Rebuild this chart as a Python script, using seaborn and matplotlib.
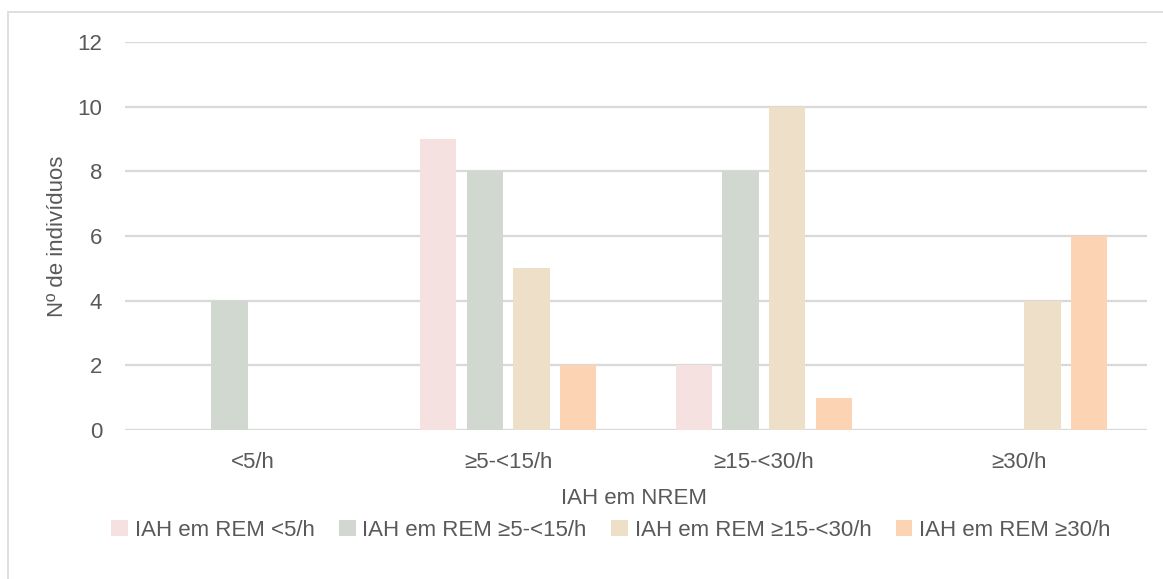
import matplotlib
matplotlib.use("Agg")
import matplotlib.pyplot as plt
from matplotlib.patches import Rectangle
import seaborn as sns
import pandas as pd

categories = ["<5/h", "≥5-<15/h", "≥15-<30/h", "≥30/h"]
series = ["IAH em REM <5/h", "IAH em REM ≥5-<15/h",
          "IAH em REM ≥15-<30/h", "IAH em REM ≥30/h"]
rem_lt5 = [0, 9, 2, 0]
rem_5_15 = [4, 8, 8, 0]
rem_15_30 = [0, 5, 10, 4]
rem_ge30 = [0, 2, 1, 6]
colors = ["#F4E1E0", "#D1D8D0", "#EEDFC9", "#FCD4B3"]

rows = []
for name, vals in zip(series, [rem_lt5, rem_5_15, rem_15_30, rem_ge30]):
    for cat, v in zip(categories, vals):
        rows.append({"NREM": cat, "REM": name, "n": v})
df = pd.DataFrame(rows)

sns.set_theme(style="white")
plt.rcParams["font.family"] = ["Liberation Sans", "DejaVu Sans"]
text_color = "#595959"
fs = 16

fig = plt.figure(figsize=(11.63, 5.79), dpi=100)
ax = fig.add_axes([125 / 1163, 1 - 430 / 579, 1022 / 1163, 388 / 579])

sns.barplot(data=df, x="NREM", y="n", hue="REM", order=categories,
            hue_order=series, palette=colors, width=0.73, gap=0.22,
            saturation=1, linewidth=0, ax=ax, legend=True, zorder=3)

ax.set_ylim(0, 12)
ax.set_yticks(range(0, 13, 2))
ax.set_xlim(-0.5, 3.5)
ax.yaxis.grid(True, color="#D9D9D9", linewidth=1.6, zorder=0)
ax.set_axisbelow(True)
for s in ax.spines.values():
    s.set_visible(False)
ax.tick_params(axis="both", length=0, labelsize=fs, colors=text_color)
ax.tick_params(axis="y", pad=16.5)
ax.tick_params(axis="x", pad=15.5)

# axis titles placed in axes coordinates
ax.set_xlabel("IAH em NREM", fontsize=fs, color=text_color, va="center")
ax.xaxis.set_label_coords(509 / 1022, -69 / 388)
ax.set_ylabel("Nº de indivíduos", fontsize=fs, color=text_color, va="center")
ax.yaxis.set_label_coords(-67 / 1022, 0.5)

handles, labels = ax.get_legend_handles_labels()
ax.get_legend().remove()
fig.legend(handles, labels, loc="center", bbox_to_anchor=(611 / 1163, 1 - 530 / 579),
           ncol=4, frameon=False, fontsize=fs, labelcolor=text_color,
           handlelength=0.75, handleheight=0.75, handletextpad=0.3,
           columnspacing=1.1, borderaxespad=0)

# chart area frame
fig.patches.append(Rectangle((8 / 1163, -0.05), 1.1, 1 - 12 / 579 + 0.05,
                             transform=fig.transFigure, fill=False,
                             edgecolor="#D9D9D9", linewidth=1.2))

fig.savefig("out.png", dpi=100, facecolor="white")
